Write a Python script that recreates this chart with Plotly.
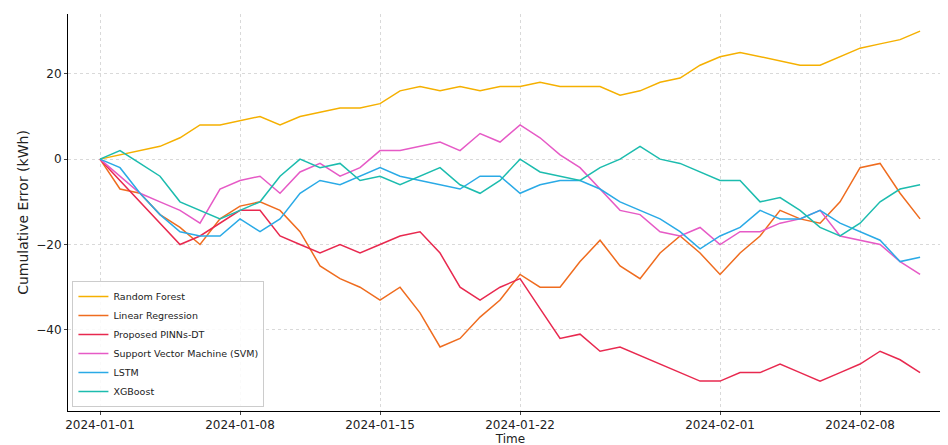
import pandas as pd
import plotly.graph_objects as go

dates = pd.date_range("2024-01-01", periods=42, freq="D")

random_forest = [0, 1, 2, 3, 5, 8, 8, 9, 10, 8, 10, 11, 12, 12, 13, 16, 17, 16, 17, 16, 17,
                 17, 18, 17, 17, 17, 15, 16, 18, 19, 22, 24, 25, 24, 23, 22, 22, 24, 26, 27, 28, 30]
linear_regression = [0, -7, -8, -13, -16, -20, -14, -11, -10, -12, -17, -25, -28, -30, -33, -30, -36,
                     -44, -42, -37, -33, -27, -30, -30, -24, -19, -25, -28, -22, -18, -22, -27, -22,
                     -18, -12, -14, -15, -10, -2, -1, -8, -14]
pinns = [0, -5, -10, -15, -20, -18, -15, -12, -12, -18, -20, -22, -20, -22, -20, -18, -17, -22, -30,
         -33, -30, -28, -35, -42, -41, -45, -44, -46, -48, -50, -52, -52, -50, -50, -48, -50, -52, -50,
         -48, -45, -47, -50]
svm = [0, -4, -8, -10, -12, -15, -7, -5, -4, -8, -3, -1, -4, -2, 2, 2, 3, 4, 2, 6, 4, 8, 5, 1, -2,
       -7, -12, -13, -17, -18, -16, -20, -17, -17, -15, -14, -12, -18, -19, -20, -24, -27]
lstm = [0, -2, -8, -13, -17, -18, -18, -14, -17, -14, -8, -5, -6, -4, -2, -4, -5, -6, -7, -4, -4, -8,
        -6, -5, -5, -7, -10, -12, -14, -17, -21, -18, -16, -12, -14, -14, -12, -15, -17, -19, -24, -23]
xgboost = [0, 2, -1, -4, -10, -12, -14, -12, -10, -4, 0, -2, -1, -5, -4, -6, -4, -2, -6, -8, -5, 0,
           -3, -4, -5, -2, 0, 3, 0, -1, -3, -5, -5, -10, -9, -12, -16, -18, -15, -10, -7, -6]

series = [
    ("Random Forest", random_forest, "#f5b000"),
    ("Linear Regression", linear_regression, "#ef6c1f"),
    ("Proposed PINNs-DT", pinns, "#e8294f"),
    ("Support Vector Machine (SVM)", svm, "#e65ac6"),
    ("LSTM", lstm, "#2aaae6"),
    ("XGBoost", xgboost, "#1cbcae"),
]

fig = go.Figure()
for name, vals, color in series:
    fig.add_trace(go.Scatter(x=dates, y=vals, mode="lines", name=name,
                             line=dict(color=color, width=1.5)))

fig.update_layout(
    width=948, height=445,
    margin=dict(l=60, r=3, t=6, b=42),
    plot_bgcolor="white", paper_bgcolor="white",
    font=dict(family="DejaVu Sans", size=12, color="#222"),
    legend=dict(x=0.005, y=0.01, xanchor="left", yanchor="bottom",
                bordercolor="#ccc", borderwidth=1, bgcolor="rgba(255,255,255,0.85)",
                font=dict(size=9.5), tracegroupgap=0, itemwidth=30),
)
fig.update_xaxes(
    title=dict(text="Time", standoff=0, font=dict(size=12)),
    tickvals=pd.to_datetime(["2024-01-01", "2024-01-08", "2024-01-15", "2024-01-22",
                             "2024-02-01", "2024-02-08"]),
    ticktext=["2024-01-01", "2024-01-08", "2024-01-15", "2024-01-22", "2024-02-01", "2024-02-08"],
    range=[pd.Timestamp("2023-12-30 09:36"), pd.Timestamp("2024-02-12 15:30")],
    showline=True, linecolor="black", ticks="outside", ticklen=3,
    showgrid=True, gridcolor="#d9d9d9", griddash="dot",
)
fig.update_yaxes(
    title=dict(text="Cumulative Error (kWh)", standoff=4),
    range=[-59, 34], tickvals=[-40, -20, 0, 20],
    showline=True, linecolor="black", ticks="outside", ticklen=3,
    showgrid=True, gridcolor="#d9d9d9", griddash="dot", zeroline=False,
)

fig.write_html("out.html")
